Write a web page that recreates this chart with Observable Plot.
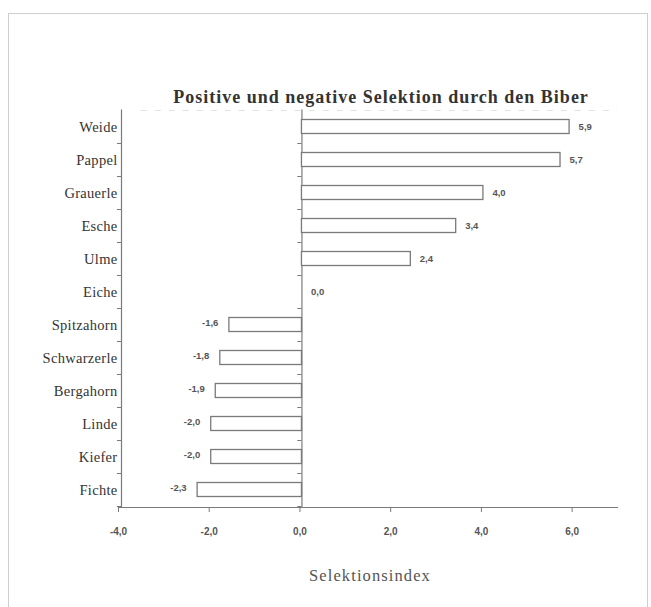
<!DOCTYPE html>
<html>
<head>
<meta charset="utf-8">
<script src="https://cdn.jsdelivr.net/npm/d3@7"></script>
<script src="https://cdn.jsdelivr.net/npm/@observablehq/plot@0.6"></script>
<style>
  html, body { margin: 0; padding: 0; background: #fff; }
  #wrap { position: relative; width: 651px; height: 607px; overflow: hidden; }
  #border { position: absolute; left: 8px; top: 13px; width: 638px; height: 600px; border: 1px solid #cfcfcf; }
  #chart { position: absolute; left: 0; top: 0; }
  text[aria-label="chart-title"] { letter-spacing: 1px; }
  text[aria-label="x-title"] { letter-spacing: 1.1px; }
  g[aria-label="y-axis tick label"] text { letter-spacing: 0.3px; }
</style>
</head>
<body>
<div id="wrap"><div id="border"></div><div id="chart"></div></div>
<script>
const title = "Positive und negative Selektion durch den Biber";
const xLabel = "Selektionsindex";
const species = ["Weide","Pappel","Grauerle","Esche","Ulme","Eiche","Spitzahorn","Schwarzerle","Bergahorn","Linde","Kiefer","Fichte"];
const values = [5.9, 5.7, 4.0, 3.4, 2.4, 0.0, -1.6, -1.8, -1.9, -2.0, -2.0, -2.3];
const xTicks = [-4, -2, 0, 2, 4, 6];

const data = species.map((s, i) => ({species: s, value: values[i]}));
const fmt = v => v.toFixed(1).replace(".", ",");
const ink = "#333";
const grey = "#7a7a7a";

const chart = Plot.plot({
  width: 651,
  height: 607,
  marginTop: 109.5,
  marginBottom: 100,
  marginLeft: 118,
  marginRight: 34,
  style: {background: "transparent", color: ink},
  x: {domain: [-4, 7]},
  y: {domain: species, padding: 0},
  marks: [
    Plot.ruleY([0], {x1: -3.5, x2: 7, y: () => species[0], dy: -16.5, stroke: "#e2e2e2", strokeDasharray: "6,8", strokeWidth: 1}),
    Plot.frame({anchor: "bottom", stroke: grey, strokeWidth: 1.2}),
    Plot.ruleX([-4], {stroke: grey, strokeWidth: 1.2, dx: 3}),
    Plot.ruleX([0], {stroke: grey, strokeWidth: 1.2, dx: 2}),
    Plot.ruleY(species, {y: d => d, x1: -4.09, x2: -4, dx: 3, dy: 16.5, stroke: grey}),
    Plot.ruleY(species, {y: d => d, x1: -0.09, x2: 0, dx: 2, dy: 16.5, stroke: grey}),
    Plot.barX(data, {x: "value", y: "species", insetTop: 9.5, insetBottom: 9.5, fill: "white", stroke: grey, strokeWidth: 1.3, dx: 2}),
    Plot.text(data.filter(d => d.value >= 0), {x: "value", y: "species", text: d => fmt(d.value), textAnchor: "start", dx: 11, fontSize: 9.5, fontWeight: "bold", fontFamily: "Liberation Sans, Arial, sans-serif", fill: "#555"}),
    Plot.text(data.filter(d => d.value < 0), {x: "value", y: "species", text: d => fmt(d.value), textAnchor: "end", dx: -9, dy: -2, fontSize: 9.5, fontWeight: "bold", fontFamily: "Liberation Sans, Arial, sans-serif", fill: "#555"}),
    Plot.axisY({tickSize: 0, tickPadding: 1, label: null, fontSize: 14.5, fontFamily: "Liberation Serif, Times New Roman, serif", fill: ink}),
    Plot.axisX({ticks: xTicks, tickFormat: fmt, tickSize: 5, tickPadding: 15, label: null, fontSize: 10, fontWeight: "bold", fontFamily: "Liberation Sans, Arial, sans-serif", fill: "#555", stroke: grey}),
    Plot.text([title], {ariaLabel: () => "chart-title", frameAnchor: "top", lineAnchor: "middle", dx: 13, dy: -13, text: d => d, fontSize: 18, fontWeight: "bold", fontFamily: "Liberation Serif, Times New Roman, serif", fill: ink}),
    Plot.text([xLabel], {ariaLabel: () => "x-title", frameAnchor: "bottom", lineAnchor: "middle", dx: 2, dy: 68, text: d => d, fontSize: 16.5, fontFamily: "Liberation Serif, Times New Roman, serif", fill: "#555"})
  ]
});
document.getElementById("chart").appendChild(chart);
</script>
</body>
</html>
